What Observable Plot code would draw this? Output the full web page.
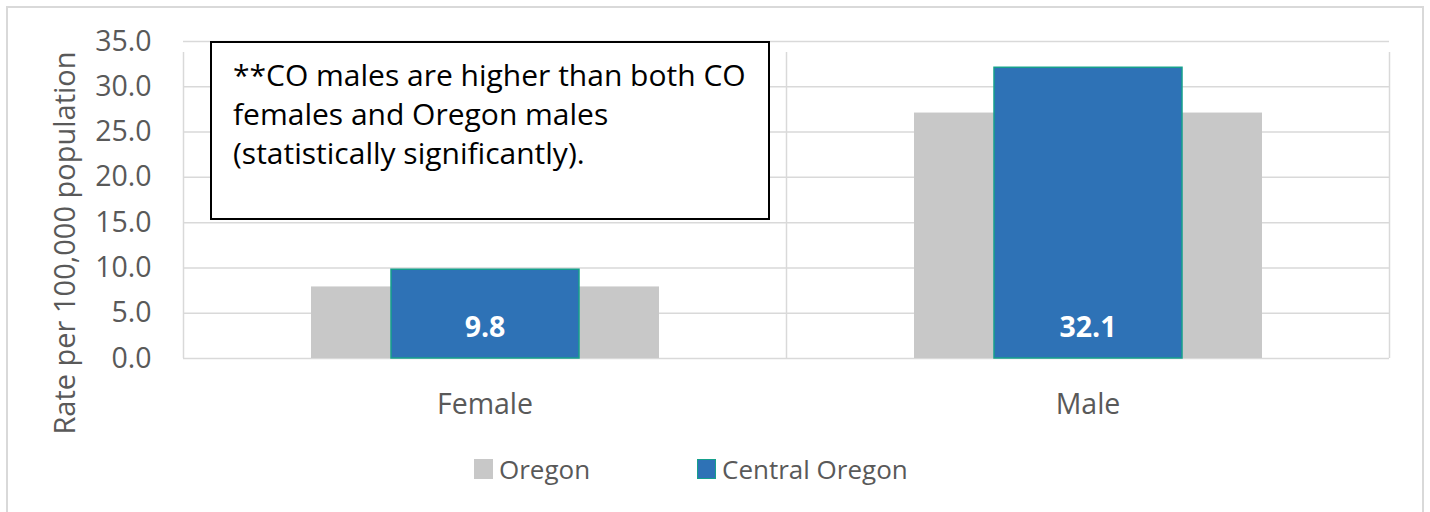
<!DOCTYPE html>
<html>
<head>
<meta charset="utf-8">
<script src="https://cdn.jsdelivr.net/npm/d3@7"></script>
<script src="https://cdn.jsdelivr.net/npm/@observablehq/plot@0.6"></script>
<style>
  html, body { margin: 0; padding: 0; background: #fff; }
  body { width: 1430px; height: 512px; position: relative; overflow: hidden; font-family: "Open Sans", sans-serif; }
  #frame { position: absolute; left: 6px; top: 6px; width: 1418px; height: 520px; border: 2px solid #d9d9d9; box-sizing: border-box; }
  #chart { position: absolute; left: 0; top: 0; }
  #note { position: absolute; left: 210px; top: 41px; width: 560px; height: 179px; box-sizing: border-box;
          border: 2px solid #000; background: #fff; padding: 12px 0 0 21px; font-size: 30px; line-height: 39px; color: #000; white-space: nowrap; }
  #legend { position: absolute; top: 451px; left: 0; width: 1430px; height: 36px; }
  .item { position: absolute; top: 0; display: flex; align-items: center; height: 36px; font-size: 26px; color: #595959; }
  .sw { width: 19px; height: 20px; margin-right: 6px; box-sizing: border-box; }
</style>
</head>
<body>
<div id="frame"></div>
<div id="chart"></div>
<div id="note">**CO males are higher than both CO<br>females and Oregon males<br>(statistically significantly).</div>
<div id="legend"></div>
<script>
// ---- data ----
const categories = ["Female", "Male"];
const seriesNames = ["Oregon", "Central Oregon"];
const oregonValues = [7.9, 27.1];
const centralOregonValues = [9.8, 32.1];
const yTicks = [0, 5, 10, 15, 20, 25, 30, 35];
const yLabel = "Rate per 100,000 population";
const colors = {"Oregon": "#c8c8c8", "Central Oregon": "#2e72b6"};

const oregon = categories.map((c, i) => ({category: c, i, value: oregonValues[i]}));
const central = categories.map((c, i) => ({category: c, i, value: centralOregonValues[i]}));

const chart = Plot.plot({
  width: 1430,
  height: 440,
  marginLeft: 183,
  marginRight: 41,
  marginTop: 41,
  marginBottom: 82,
  style: {fontFamily: "Open Sans", fontSize: "28px", color: "#595959", background: "transparent", overflow: "visible"},
  x: {domain: [0, categories.length], axis: null},
  y: {domain: [0, 35], axis: null},
  marks: [
    Plot.ruleY(yTicks, {stroke: "#d9d9d9", strokeWidth: 1.5}),
    Plot.ruleX(d3.range(categories.length + 1), {y1: 0, y2: 35, insetBottom: -11, stroke: "#d9d9d9", strokeWidth: 1.5}),
    Plot.rectY(oregon, {x1: d => d.i, x2: d => d.i + 1, y: "value", fill: colors["Oregon"], insetLeft: 128, insetRight: 127}),
    Plot.rectY(central, {x1: d => d.i, x2: d => d.i + 1, y: "value", fill: colors["Central Oregon"], stroke: "#16a08c", strokeWidth: 1.5, insetLeft: 208, insetRight: 207}),
    Plot.text(central, {x: d => d.i + 0.5, y: 0, text: d => d.value.toFixed(1), dy: -31, fill: "white", fontWeight: "bold", fontSize: 28.5}),
    Plot.axisY(yTicks, {tickSize: 0, tickPadding: 32, tickFormat: d3.format(".1f"), fontSize: 28.5, label: null}),
    Plot.axisX(categories.map((c, i) => i + 0.5), {tickSize: 0, tickPadding: 35, tickFormat: d => categories[Math.floor(d)], fontSize: 28.5, label: null}),
    Plot.text([yLabel], {frameAnchor: "left", textAnchor: "middle", rotate: -90, dx: -118, dy: 43, fontSize: 29, fill: "#595959"})
  ]
});
document.getElementById("chart").appendChild(chart);

// legend
const legend = document.getElementById("legend");
const legendX = [474, 697];
seriesNames.forEach((name, k) => {
  const item = document.createElement("div");
  item.className = "item";
  item.style.left = legendX[k] + "px";
  const sw = document.createElement("span");
  sw.className = "sw";
  sw.style.background = colors[name];
  if (name === "Central Oregon") sw.style.border = "1.5px solid #16a08c";
  item.appendChild(sw);
  item.appendChild(document.createTextNode(name));
  legend.appendChild(item);
});
</script>
</body>
</html>
